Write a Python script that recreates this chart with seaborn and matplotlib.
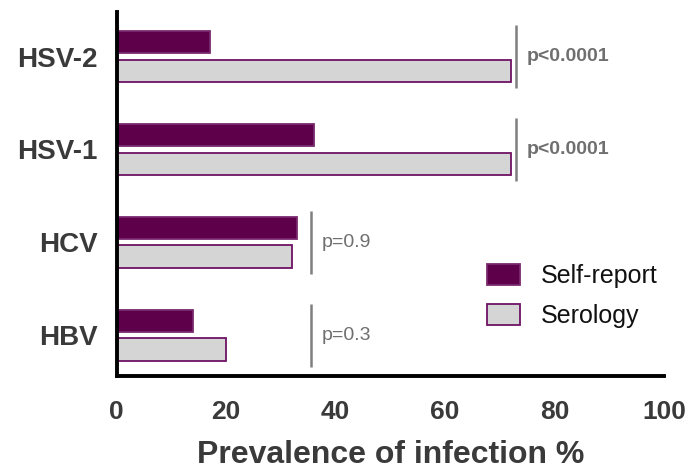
import matplotlib
matplotlib.use("Agg")
import matplotlib.pyplot as plt
import seaborn as sns
import pandas as pd

categories = ["HSV-2", "HSV-1", "HCV", "HBV"]
self_report = [17, 36, 33, 14]
serology = [72, 72, 32, 20]
p_values = ["p<0.0001", "p<0.0001", "p=0.9", "p=0.3"]
series_names = ["Self-report", "Serology"]

df = pd.DataFrame({
    "virus": categories * 2,
    "value": self_report + serology,
    "source": [series_names[0]] * 4 + [series_names[1]] * 4,
})

sns.set_theme(style="white")
plt.rcParams["font.family"] = ["Liberation Sans", "DejaVu Sans"]

fig = plt.figure(figsize=(6.87, 4.74), dpi=100)
ax = fig.add_axes([0.170, 0.2068, 0.7965, 0.7679])

fills = {"Self-report": "#5f004b", "Serology": "#d5d5d5"}
edges = {"Self-report": "#7a2a6e", "Serology": "#6e1163"}

sns.barplot(data=df, y="virus", x="value", hue="source", order=categories,
            hue_order=series_names, palette=fills, orient="h",
            width=0.62, gap=0.22, ax=ax, legend=True, saturation=1)

for cont, name in zip(ax.containers, series_names):
    for bar in cont:
        bar.set_edgecolor(edges[name])
        bar.set_linewidth(1.3)

ax.set_xlim(0, 100)
ax.set_ylim(3.44, -0.48)
ax.set_xticks([0, 20, 40, 60, 80, 100])
ax.set_ylabel("")
ax.set_xlabel("Prevalence of infection %", fontsize=23, fontweight="bold",
              color="#3a3a3a", labelpad=12)

for s in ["top", "right"]:
    ax.spines[s].set_visible(False)
for s in ["left", "bottom"]:
    ax.spines[s].set_linewidth(2.8)
    ax.spines[s].set_color("black")

ax.tick_params(axis="x", direction="out", length=10, width=2.8, color="black",
               labelsize=19, labelcolor="#3a3a3a", pad=7)
ax.tick_params(axis="y", direction="out", length=10, width=2.8, color="black",
               labelsize=20, labelcolor="#3a3a3a", pad=4)
for lab in ax.get_xticklabels() + ax.get_yticklabels():
    lab.set_fontweight("bold")

# significance annotations
pline_x = [73.0, 73.0, 35.5, 35.5]
for i, (px, pv) in enumerate(zip(pline_x, p_values)):
    ax.vlines(px, i - 0.34, i + 0.34, color="#7f7f7f", linewidth=1.8)
    bold = pv.startswith("p<")
    ax.text(px + 2.0, i, pv, va="center", ha="left", fontsize=14,
            color="#6f6f6f", fontweight="bold" if bold else "normal")

leg = ax.legend(loc="upper left", bbox_to_anchor=(0.676, 0.307), frameon=False,
                fontsize=18, handlelength=1.35, handleheight=0.9,
                labelspacing=0.65, handletextpad=0.8, borderaxespad=0,
                borderpad=0)
for h, name in zip(leg.legend_handles, series_names):
    h.set_edgecolor(edges[name])
    h.set_linewidth(1.3)
for t in leg.get_texts():
    t.set_color("#111111")

fig.savefig("out.png", dpi=100)
